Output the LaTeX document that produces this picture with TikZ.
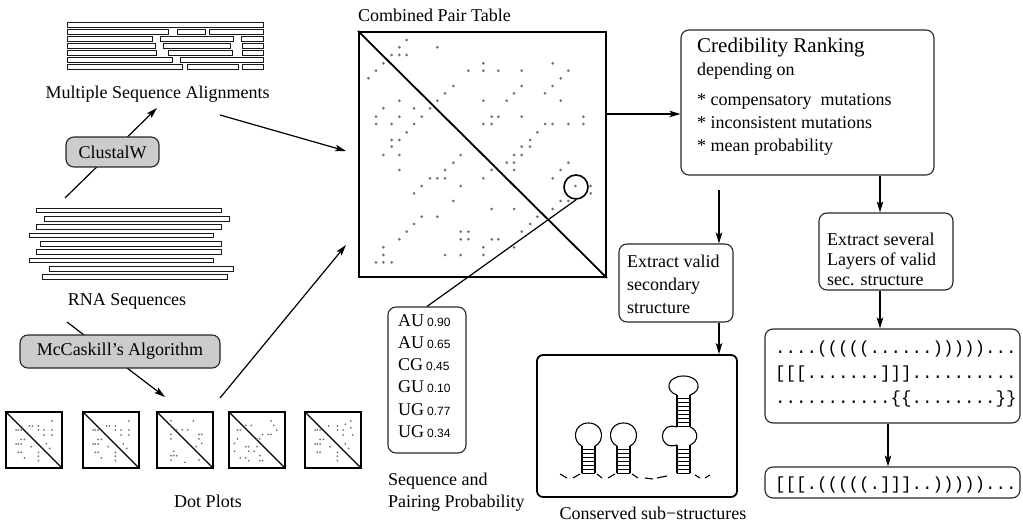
\documentclass[tikz,border=0pt]{standalone}
\usepackage{fontspec}
\setmainfont{Liberation Serif}
\setsansfont{Liberation Sans}
\setmonofont{Liberation Mono}
\usetikzlibrary{arrows.meta,calc}

\begin{document}
\begin{tikzpicture}[x=1pt,y=-1pt,
  txt/.style={inner sep=0pt, font=\fontsize{18}{22}\selectfont},
  bigtxt/.style={inner sep=0pt, font=\fontsize{21}{24}\selectfont},
  mono/.style={inner sep=0pt, font=\ttfamily\fontsize{17.5}{20}\selectfont},
  rbox/.style={draw=black!85, line width=1.1pt, rounded corners=8pt, inner sep=0pt},
  gbox/.style={rbox, fill=black!20, font=\fontsize{18}{22}\selectfont},
  conn/.style={line width=1.2pt},
  arr/.style={conn, -{Stealth[length=11pt,width=6.5pt,inset=2.5pt]}},
  plotbox/.style={draw, line width=1.2pt, minimum width=56pt, minimum height=56pt, inner sep=0pt},
  bar/.style={draw=black!90, line width=1pt, fill=white},
  pdot/.style={fill=black!55},
  stem/.style={line width=1.1pt},
]
\useasboundingbox (0,0) rectangle (1023,524);

% ---------- multiple sequence alignment ----------
\foreach \r/\segs in {0/{67/263},
                      1/{67/168,177/205,209/263},
                      2/{67/152,160/233,241/263},
                      3/{67/155,163/230,242/263},
                      4/{67/156,168/232,242/263},
                      5/{67/172,180/263},
                      6/{67/182,187/238,242/263}}{
  \foreach \a/\b in \segs
    \draw[bar] (\a,{22.5+\r*6.95}) rectangle (\b,{27.9+\r*6.95});
}
\node[txt, anchor=base] (msalabel) at (157.5,99) {Multiple Sequence Alignments};

% ---------- RNA sequences ----------
\foreach \a/\b/\t in {36/221/208, 44/229/216.5, 36/221/224.8, 29/213/233.1,
                      40/221/241.4, 36/221/249.7, 29/213/258, 49/233/266.3, 42/227/274.6}
  \draw[bar] (\a,\t) rectangle (\b,\t+4.8);
\node[txt, anchor=base] (rnalabel) at (127,305) {RNA Sequences};

% ---------- ClustalW step ----------
\coordinate (rnaTop) at (65,198);
\coordinate (msaBot) at (157,108);
\draw[arr] (rnaTop) -- (msaBot);
\node[gbox, minimum width=93pt, minimum height=30pt] (clustal) at (112.5,152) {ClustalW};

% ---------- McCaskill step ----------
\coordinate (rnaBot) at (67,322);
\coordinate (dpTop) at (165,397);
\draw[arr] (rnaBot) -- (dpTop);
\node[gbox, minimum width=200pt, minimum height=33pt] (mccaskill) at (120,351.5) {McCaskill's Algorithm};

% ---------- dot plots ----------
\def\patA{0.82/0.16,0.42/0.25,0.47/0.25,0.58/0.25,0.18/0.32,0.22/0.32,0.27/0.32,
  0.58/0.32,0.68/0.32,0.82/0.32,0.68/0.41,0.82/0.41,0.27/0.49,0.33/0.49,0.18/0.57,
  0.22/0.57,0.27/0.57,0.45/0.62,0.72/0.57,0.78/0.65,0.22/0.72,0.27/0.72,0.58/0.72,
  0.58/0.79,0.33/0.82,0.58/0.87}
\def\patB{0.25/0.16,0.65/0.16,0.25/0.24,0.35/0.32,0.45/0.32,0.55/0.32,0.25/0.4,
  0.75/0.4,0.8/0.4,0.25/0.48,0.75/0.48,0.8/0.56,0.7/0.62,0.3/0.7,0.25/0.78,0.3/0.78,
  0.35/0.78,0.25/0.86,0.5/0.9,0.75/0.86}
\def\patC{0.75/0.16,0.3/0.24,0.4/0.24,0.8/0.24,0.85/0.32,0.15/0.32,0.2/0.32,0.75/0.4,
  0.6/0.4,0.7/0.4,0.15/0.48,0.5/0.48,0.55/0.48,0.1/0.56,0.3/0.62,0.35/0.62,0.5/0.62,
  0.1/0.7,0.35/0.7,0.45/0.7,0.55/0.78,0.2/0.82,0.3/0.82,0.35/0.87,0.55/0.87,0.6/0.87}
\def\patD{0.82/0.16,0.42/0.25,0.58/0.25,0.72/0.22,0.18/0.32,0.22/0.32,0.27/0.32,
  0.58/0.32,0.68/0.32,0.82/0.28,0.68/0.41,0.85/0.41,0.27/0.49,0.33/0.49,0.18/0.57,
  0.22/0.57,0.27/0.57,0.45/0.62,0.72/0.57,0.78/0.65,0.22/0.72,0.27/0.72,0.58/0.72,
  0.58/0.79,0.58/0.87}
\foreach \n/\cx/\pat in {1/34/patA, 2/111/patA, 3/185/patB, 4/257/patC, 5/333/patD}{
  \node[plotbox] (plot\n) at (\cx,440) {};
  \draw[line width=1.2pt] (plot\n.north west) -- (plot\n.south east);
  \edef\curpat{\csname\pat\endcsname}
  \foreach \a/\b in \curpat
    \fill[pdot] ({\cx-28+\a*56},{412+\b*56}) circle (1);
}
\node[txt, anchor=base] (dotlabel) at (208,507) {Dot Plots};

% ---------- combined pair table ----------
\node[draw, line width=1.8pt, minimum width=247pt, minimum height=245pt, inner sep=0pt] (table) at (482.5,154.5) {};
\draw[line width=1.8pt] (table.north west) -- (table.south east);
\foreach \x/\y in {200/120, 178/142, 292/142, 155/165, 178/165, 200/165,
  130/190, 430/190, 638/190, 108/212, 385/212, 430/212, 475/212, 545/212, 685/212,
  85/235, 662/235, 340/258, 545/258, 638/258, 315/280, 522/280, 615/280,
  178/302, 292/302, 430/302, 500/302, 662/302, 130/325, 222/325, 270/325,
  108/350, 178/350, 245/350, 455/350, 475/350, 545/350, 730/350,
  108/372, 155/372, 222/372, 430/372, 455/372, 615/372, 638/372, 685/372, 730/372,
  200/397, 592/397, 155/420, 178/420, 570/420, 155/440, 545/440, 570/440,
  130/465, 178/465, 362/465, 522/465, 545/465, 340/488, 500/488, 522/488, 685/488,
  178/510, 315/510, 455/510, 522/510, 662/510, 270/535, 292/535, 315/535, 430/535, 638/535,
  245/558, 362/558, 706/558, 752/558, 222/580, 752/580, 340/603, 662/603, 685/603,
  455/627, 522/627, 638/627, 245/650, 292/650, 592/650, 222/672, 570/672,
  200/695, 362/695, 385/695, 545/695, 178/718, 362/718, 385/718, 455/718, 475/718,
  130/742, 430/742, 522/742, 130/765, 315/765, 362/765, 430/765, 108/787, 130/787, 155/787}
  \fill[pdot] ({340+\x/3},{\y/3}) circle (1.5);
\node[txt, anchor=base west] (tablelabel) at (358,22) {Combined Pair Table};
\node[circle, draw, line width=1.6pt, minimum size=24pt, inner sep=0pt] (circ) at (576,187) {};

% inputs into the table
\coordinate (msaOut) at (220,115);
\coordinate (tabIn1) at (346,151);
\draw[arr] (msaOut) -- (tabIn1);
\coordinate (dpOut) at (220,398);
\coordinate (tabIn2) at (346,245);
\draw[arr] (dpOut) -- (tabIn2);

% ---------- sequence and pairing probability ----------
\node[rbox, minimum width=78pt, minimum height=146pt] (aubox) at (427,380) {};
\draw[conn] (circ.south) -- (aubox.north);
\foreach \i/\s/\p in {0/AU/0.90, 1/AU/0.65, 2/CG/0.45, 3/GU/0.10, 4/UG/0.77, 5/UG/0.34}
  \node[txt, anchor=base west] (pair\i) at (398,{326+\i*22.3})
    {\s\hspace{3pt}{\sffamily\fontsize{12}{12}\selectfont\p}};
\node[txt, anchor=base west] (seqlabel1) at (388,485) {Sequence and};
\node[txt, anchor=base west] (seqlabel2) at (388,507) {Pairing Probability};

% ---------- credibility ranking ----------
\node[rbox, minimum width=253pt, minimum height=145pt] (cred) at (807.5,102.5) {};
\node[bigtxt, anchor=base west] (credtitle) at (697,53) {Credibility Ranking};
\node[txt, anchor=base west] (credsub) at (697,76) {depending on};
\node[txt, anchor=base west] (crit1) at (697,106) {* compensatory\hspace{9pt}mutations};
\node[txt, anchor=base west] (crit2) at (697,129) {* inconsistent mutations};
\node[txt, anchor=base west] (crit3) at (697,152) {* mean probability};
\coordinate (tabOut) at (table.east |- 0,114);
\draw[arr] (tabOut) -- (tabOut -| cred.west);

% ---------- single structure branch ----------
\node[rbox, minimum width=114pt, minimum height=78pt] (valid) at (676,283) {};
\node[txt, anchor=base west] (valid1) at (627,267) {Extract valid};
\node[txt, anchor=base west] (valid2) at (627,290) {secondary};
\node[txt, anchor=base west] (valid3) at (627,313) {structure};
\coordinate (vx) at (719,190);
\draw[arr] (vx) -- (vx |- valid.north);

\node[draw, line width=1.8pt, rounded corners=6pt, minimum width=200pt, minimum height=142pt, inner sep=0pt] (cons) at (637,426) {};
\draw[arr] (valid.south -| vx) -- (cons.north -| vx);
\node[txt, anchor=base] (conslabel) at (653,519) {Conserved sub\char"2212 structures};

% hairpins
\foreach \sx in {582,617}{
  \draw[stem] (\sx,446) -- (\sx,473) (\sx+13,446) -- (\sx+13,473);
  \foreach \ry in {449,453,...,473} \draw[line width=0.9pt] (\sx,\ry) -- (\sx+13,\ry);
  \draw[stem] (\sx,446) .. controls (\sx-10,442) and (\sx-9,423) .. (\sx+6.5,423)
              .. controls (\sx+22,423) and (\sx+23,442) .. (\sx+13,446);
}
\draw[stem] (677,395) -- (677,427) (690,395) -- (690,427) (677,445) -- (677,473) (690,445) -- (690,473);
\foreach \ry in {398,402,...,426} \draw[line width=0.9pt] (677,\ry) -- (690,\ry);
\foreach \ry in {449,453,...,473} \draw[line width=0.9pt] (677,\ry) -- (690,\ry);
\draw[stem] (677,395) .. controls (664,391) and (667,376) .. (683.5,376)
            .. controls (700,376) and (703,391) .. (690,395);
\draw[stem] (677,427) .. controls (658,421) and (657,451) .. (677,445);
\draw[stem] (690,427) .. controls (699,430) and (699,442) .. (690,445);
\foreach \a/\b/\c/\d in {560/474/567/478, 573/478/580/474, 597/474/602/478, 608/478/615/474,
                        632/474/638/478, 645/478/653/479, 657/478/667/476, 695/475/700/478,
                        705/478/710/475}
  \draw[stem] (\a,\b) -- (\c,\d);

% ---------- layered structure branch ----------
\node[rbox, minimum width=134pt, minimum height=77pt] (several) at (886,251.5) {};
\node[txt, anchor=base west] (sev1) at (827,245) {Extract several};
\node[txt, anchor=base west] (sev2) at (827,265) {Layers of valid};
\node[txt, anchor=base west] (sev3) at (827,285) {sec. structure};
\coordinate (sx) at (880,0);
\draw[arr] (cred.south -| sx) -- (several.north -| sx);

\node[rbox, minimum width=255pt, minimum height=94pt] (layers) at (892.5,376) {};
\node[mono, anchor=base west] (lay1) at (775,353) {....(((((......)))))...};
\node[mono, anchor=base west] (lay2) at (775,378) {[[[.......]]]..........};
\node[mono, anchor=base west] (lay3) at (775,403) {...........\{\{........\}\}};
\draw[arr] (several.south -| sx) -- (layers.north -| sx);

\node[rbox, minimum width=255pt, minimum height=31pt] (combined) at (892.5,482.5) {};
\node[mono, anchor=base west] (comb) at (775,489) {[[[.(((((.]]]..)))))...};
\coordinate (cx) at (888,0);
\draw[arr] (layers.south -| cx) -- (combined.north -| cx);
\end{tikzpicture}
\end{document}
